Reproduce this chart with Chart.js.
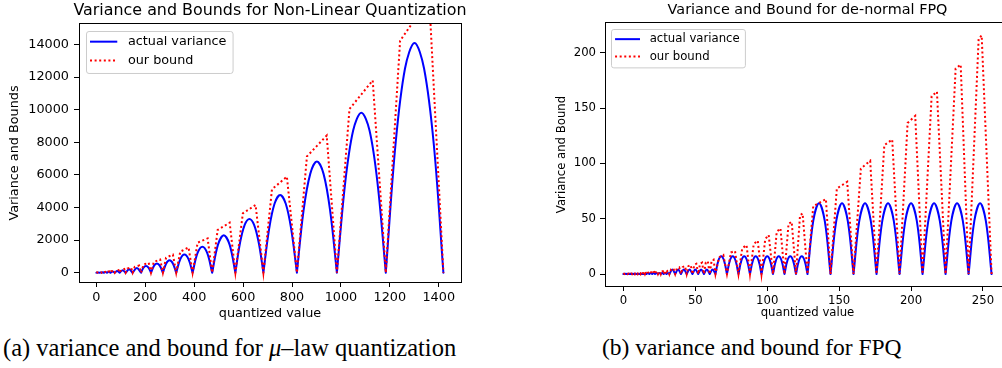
<!DOCTYPE html>
<html>
<head>
<meta charset="utf-8">
<script src="https://cdn.jsdelivr.net/npm/chart.js@4.4.1/dist/chart.umd.min.js"></script>
<style>
  html, body { margin: 0; padding: 0; background: #fff; }
  body { width: 1002px; height: 368px; overflow: hidden; position: relative; }
  canvas { position: absolute; top: 0; }
  #muChart { left: 0; }
  #fpqChart { left: 520px; }
  .caption { position: absolute; top: 334px; font-family: 'Liberation Serif', serif; font-size: 24px; white-space: nowrap; color: #000; }
</style>
</head>
<body>
<canvas id="muChart" width="500" height="325"></canvas>
<canvas id="fpqChart" width="520" height="325"></canvas>
<div class="caption" style="left:3px; font-size:24.5px">(a) variance and bound for <i>μ</i>–law quantization</div>
<div class="caption" style="left:602px; font-size:23.5px">(b) variance and bound for FPQ</div>
<script>
// ---- (a) mu-law quantization ----
const muXTicks = [0, 200, 400, 600, 800, 1000, 1200, 1400];
const muYTicks = [0, 2000, 4000, 6000, 8000, 10000, 12000, 14000];

// actual variance, one list per quantization interval
const muVariance = [
  [[0, 0], [2.8, 8], [5.6, 0]],
  [[5.6, 0], [9.2, 13], [12.8, 0]],
  [[12.8, 0], [17, 18], [21.3, 0]],
  [[21.3, 0], [26.4, 26], [31.4, 0]],
  [[31.4, 0], [37.5, 37], [43.5, 0]],
  [[43.5, 0], [50.7, 52], [57.9, 0]],
  [[57.9, 0], [66.5, 73], [75, 0]],
  [[75, 0], [85.2, 103], [95.3, 0]],
  [[95.3, 0], [107.4, 146], [119.5, 0]],
  [[119.5, 0], [133.9, 207], [148.3, 0]],
  [[148.3, 0], [165.5, 294], [182.6, 0]],
  [[182.6, 0], [192.8, 312], [203, 416], [213.2, 312], [223.4, 0]],
  [[223.4, 0], [235.5, 420], [247.7, 560], [259.8, 420], [272, 0]],
  [[272, 0], [285.6, 570], [299.3, 760], [312.9, 570], [326.5, 0]],
  [[326.5, 0], [343.3, 830], [360, 1110], [376.8, 830], [393.5, 0]],
  [[393.5, 0], [413.5, 1195], [433.5, 1595], [453.5, 1195], [473.5, 0]],
  [[473.5, 0], [497.3, 1720], [521, 2290], [544.8, 1720], [568.5, 0]],
  [[568.5, 0], [587.5, 1835], [606.5, 2935], [625.8, 3300], [645, 2935], [664, 1835], [683, 0]],
  [[683, 0], [706, 2645], [728.5, 4230], [751.5, 4760], [774.5, 4230], [797, 2645], [820, 0]],
  [[820, 0], [847, 3790], [874.5, 6060], [901.8, 6820], [929, 6060], [956, 3790], [983.5, 0]],
  [[983.5, 0], [1017, 5450], [1050, 8720], [1083.5, 9810], [1117, 8720], [1150, 5450], [1183.5, 0]],
  [[1183.5, 0], [1223, 7830], [1262, 12520], [1301, 14090], [1340, 12520], [1380, 7830], [1419, 0]]
];

// our bound (piecewise straight)
const muBound = [
  [0, 0], [1.4, 10], [4.3, 12], [5.6, 0],
  [7.4, 16], [11.1, 20], [12.8, 0],
  [15, 22], [19.4, 28], [21.3, 0],
  [24, 31], [29, 41], [31.4, 0],
  [34.5, 45], [40.7, 58], [43.5, 0],
  [47, 62], [54.6, 82], [57.9, 0],
  [62, 88], [71, 115], [75, 0],
  [80, 125], [90.6, 160], [95.3, 0],
  [101.5, 175], [114, 225], [119.5, 0],
  [127, 250], [142, 315], [148.3, 0],
  [157, 355], [175, 440], [182.6, 0],
  [193, 500], [214, 610], [223.4, 0],
  [235, 660], [261, 810], [272, 0],
  [285, 920], [313, 1110], [326.5, 0],
  [343, 1290], [377, 1550], [393.5, 0],
  [414, 1840], [455, 2105], [473.5, 0],
  [496, 2620], [545, 3070], [568.5, 0],
  [599, 3640], [651, 4150], [683, 0],
  [718, 5110], [779, 5890], [820, 0],
  [861, 7130], [942, 8410], [983.5, 0],
  [1035, 10040], [1130, 11790], [1183.5, 0],
  [1242, 14225], [1361, 16800], [1419, 0]
];

// ---- (b) de-normal FPQ ----
const fpqXTicks = [0, 50, 100, 150, 200, 250];
const fpqYTicks = [0, 50, 100, 150, 200];

const fpqVariance = [
  [[0, 0], [0.5, 0.25], [1, 0]], [[1, 0], [1.5, 0.25], [2, 0]], [[2, 0], [2.5, 0.25], [3, 0]], [[3, 0], [3.5, 0.25], [4, 0]],
  [[4, 0], [4.5, 0.25], [5, 0]], [[5, 0], [5.5, 0.25], [6, 0]], [[6, 0], [6.5, 0.25], [7, 0]], [[7, 0], [7.5, 0.25], [8, 0]],
  [[8, 0], [8.5, 0.25], [9, 0]], [[9, 0], [9.5, 0.25], [10, 0]], [[10, 0], [10.5, 0.25], [11, 0]], [[11, 0], [11.5, 0.25], [12, 0]],
  [[12, 0], [12.5, 0.25], [13, 0]], [[13, 0], [13.5, 0.25], [14, 0]], [[14, 0], [14.5, 0.25], [15, 0]], [[15, 0], [15.5, 0.25], [16, 0]],
  [[16, 0], [17, 1], [18, 0]], [[18, 0], [19, 1], [20, 0]], [[20, 0], [21, 1], [22, 0]], [[22, 0], [23, 1], [24, 0]],
  [[24, 0], [25, 1], [26, 0]], [[26, 0], [27, 1], [28, 0]], [[28, 0], [29, 1], [30, 0]], [[30, 0], [31, 1], [32, 0]],
  [[32, 0], [34, 4], [36, 0]], [[36, 0], [38, 4], [40, 0]], [[40, 0], [42, 4], [44, 0]], [[44, 0], [46, 4], [48, 0]],
  [[48, 0], [50, 4], [52, 0]], [[52, 0], [54, 4], [56, 0]], [[56, 0], [58, 4], [60, 0]], [[60, 0], [62, 4], [64, 0]],
  [[64, 0], [66, 12], [68, 16], [70, 12], [72, 0]],
  [[72, 0], [74, 12], [76, 16], [78, 12], [80, 0]],
  [[80, 0], [82, 12], [84, 16], [86, 12], [88, 0]],
  [[88, 0], [90, 12], [92, 16], [94, 12], [96, 0]],
  [[96, 0], [98, 12], [100, 16], [102, 12], [104, 0]],
  [[104, 0], [106, 12], [108, 16], [110, 12], [112, 0]],
  [[112, 0], [114, 12], [116, 16], [118, 12], [120, 0]],
  [[120, 0], [122, 12], [124, 16], [126, 12], [128, 0]],
  [[128, 0], [132, 48], [136, 64], [140, 48], [144, 0]],
  [[144, 0], [148, 48], [152, 64], [156, 48], [160, 0]],
  [[160, 0], [164, 48], [168, 64], [172, 48], [176, 0]],
  [[176, 0], [180, 48], [184, 64], [188, 48], [192, 0]],
  [[192, 0], [196, 48], [200, 64], [204, 48], [208, 0]],
  [[208, 0], [212, 48], [216, 64], [220, 48], [224, 0]],
  [[224, 0], [228, 48], [232, 64], [236, 48], [240, 0]],
  [[240, 0], [244, 48], [248, 64], [252, 48], [256, 0]]
];

const fpqBound = [
  [0, 0], [0.3, 0.2], [0.7, 0.25], [1, 0], [1.3, 0.25], [1.7, 0.3], [2, 0], [2.3, 0.3], [2.7, 0.35], [3, 0],
  [3.3, 0.35], [3.7, 0.4], [4, 0], [4.3, 0.4], [4.7, 0.5], [5, 0], [5.3, 0.45], [5.7, 0.5], [6, 0],
  [6.3, 0.5], [6.7, 0.6], [7, 0], [7.3, 0.55], [7.7, 0.6], [8, 0], [8.3, 0.6], [8.7, 0.7], [9, 0],
  [9.3, 0.65], [9.7, 0.7], [10, 0], [10.3, 0.7], [10.7, 0.8], [11, 0], [11.3, 0.75], [11.7, 0.8], [12, 0],
  [12.3, 0.8], [12.7, 0.9], [13, 0], [13.3, 0.85], [13.7, 0.9], [14, 0], [14.3, 0.9], [14.7, 1.0], [15, 0],
  [15.3, 0.95], [15.7, 1.0], [16, 0],
  [16.6, 1.1], [17.4, 1.3], [18, 0], [18.6, 1.3], [19.4, 1.5], [20, 0],
  [20.6, 1.5], [21.4, 1.8], [22, 0], [22.6, 1.8], [23.4, 2.0], [24, 0],
  [24.6, 2.0], [25.4, 2.3], [26, 0], [26.6, 2.3], [27.4, 2.6], [28, 0],
  [28.6, 2.6], [29.4, 2.9], [30, 0], [30.6, 2.9], [31.4, 3.2], [32, 0],
  [33.2, 4.3], [34.8, 5.0], [36, 0], [37.2, 5.2], [38.8, 6.0], [40, 0],
  [41.2, 6.2], [42.8, 7.2], [44, 0], [45.2, 7.2], [46.8, 8.2], [48, 0],
  [49.3, 8.2], [50.7, 9.3], [52, 0], [53.3, 9.3], [54.7, 10.4], [56, 0],
  [57.3, 10.5], [58.7, 11.6], [60, 0], [61.3, 11.8], [62.7, 13.0], [64, 0],
  [66.5, 15.0], [69.5, 17.1], [72, 0], [74.8, 19.5], [77.6, 20.8], [80, 0],
  [82.6, 23.2], [85.6, 26.2], [88, 0], [90.6, 27.1], [93.4, 30.1], [96, 0],
  [98.6, 31.5], [101, 35.3], [104, 0], [106.6, 38.2], [109.2, 41.3], [112, 0],
  [114.8, 45.4], [117, 47.2], [120, 0], [122.8, 53], [124.6, 54.7], [128, 0],
  [132, 61.4], [140.8, 67.7], [144, 0], [148.4, 77.3], [155.6, 83.3], [160, 0],
  [165.1, 95.3], [171.6, 102.3], [176, 0], [181.4, 116.4], [186.9, 121.5], [192, 0],
  [197.6, 136.5], [202.9, 142.9], [208, 0], [214.3, 160.6], [218, 164.8], [224, 0],
  [231, 185.6], [234.5, 189.2], [240, 0], [247, 212.6], [249.1, 215.6], [256, 0]
];

const seriesLabels = ['actual variance', 'our bound'];
const seriesColors = ['#0000ff', '#ff0000'];
const dotted = [2, 2.6];

Chart.defaults.font.family = "'DejaVu Sans', sans-serif";
Chart.defaults.color = '#000';

// humps joined with gaps so every zero is a sharp cusp
const humpPoints = (humps) => {
  let pts = [];
  humps.forEach((h, i) => {
    if (i > 0) pts.push({ x: h[0][0], y: null });
    h.forEach(([x, y]) => pts.push({ x: x, y: y }));
  });
  return pts;
};

// axes frame, title and matplotlib-like legend
const framePlugin = {
  id: 'frame',
  afterDraw(chart, args, opts) {
    const ctx = chart.ctx;
    const a = chart.chartArea;
    const em = opts.em;
    ctx.save();
    ctx.strokeStyle = '#000';
    ctx.lineWidth = 1;
    ctx.strokeRect(Math.round(a.left) + 0.5, Math.round(a.top) - 0.5, Math.round(a.right - a.left), Math.round(a.bottom - a.top) + 1);

    ctx.fillStyle = '#000';
    ctx.font = opts.titleSize + "px 'DejaVu Sans'";
    ctx.textAlign = 'center';
    ctx.textBaseline = 'middle';
    ctx.fillText(opts.title, (a.left + a.right) / 2, opts.titleY);

    // legend
    ctx.font = em + "px 'DejaVu Sans'";
    let tw = Math.max(...seriesLabels.map(t => ctx.measureText(t).width));
    let bx = a.left + 0.52 * em, by = a.top + 0.52 * em;
    let bw = tw + 3.75 * em, bh = 3.28 * em;
    ctx.beginPath();
    ctx.roundRect(Math.round(bx) + 0.5, Math.round(by) + 0.5, bw, bh, 0.2 * em);
    ctx.fillStyle = 'rgba(255,255,255,0.8)';
    ctx.fill();
    ctx.strokeStyle = '#cccccc';
    ctx.stroke();
    seriesLabels.forEach((lab, i) => {
      let y = by + 0.86 * em + i * 1.48 * em;
      ctx.beginPath();
      ctx.strokeStyle = seriesColors[i];
      ctx.lineWidth = 2;
      ctx.setLineDash(i === 1 ? dotted : []);
      ctx.moveTo(bx + 0.34 * em, y);
      ctx.lineTo(bx + 2.47 * em, y);
      ctx.stroke();
      ctx.setLineDash([]);
      ctx.fillStyle = '#000';
      ctx.textAlign = 'left';
      ctx.fillText(lab, bx + 3.3 * em, y);
    });
    ctx.restore();
  }
};

function makeChart(id, cfg) {
  const em = cfg.em;
  return new Chart(document.getElementById(id), {
    type: 'line',
    data: {
      datasets: [
        {
          label: seriesLabels[0], data: humpPoints(cfg.variance),
          borderColor: seriesColors[0], borderWidth: 2, pointRadius: 0,
          tension: 0.35, spanGaps: false, borderCapStyle: 'round', order: 1
        },
        {
          label: seriesLabels[1], data: cfg.bound.map(([x, y]) => ({ x: x, y: y })),
          borderColor: seriesColors[1], borderWidth: 2, pointRadius: 0,
          borderDash: dotted, tension: 0, order: 0
        }
      ]
    },
    options: {
      responsive: false,
      devicePixelRatio: 1,
      animation: false,
      events: [],
      layout: { padding: { left: 0, right: cfg.padRight, top: cfg.padTop, bottom: 0 } },
      plugins: {
        legend: { display: false },
        title: { display: false },
        tooltip: { enabled: false },
        frame: { em: em, title: cfg.title, titleSize: cfg.titleSize, titleY: cfg.titleY }
      },
      scales: {
        x: {
          type: 'linear', min: cfg.xMin, max: cfg.xMax,
          afterBuildTicks: s => { s.ticks = cfg.xTicks.map(v => ({ value: v })); },
          afterFit: s => { s.height = cfg.xHeight; },
          ticks: { callback: v => String(v), font: { size: em }, padding: 3, autoSkip: false, maxRotation: 0 },
          grid: { display: true, drawOnChartArea: false, drawTicks: true, tickLength: 5, color: '#000' },
          border: { display: false },
          title: { display: true, text: 'quantized value', font: { size: em }, padding: { top: 0, bottom: cfg.xTitlePad } }
        },
        y: {
          type: 'linear', min: cfg.yMin, max: cfg.yMax,
          afterBuildTicks: s => { s.ticks = cfg.yTicks.map(v => ({ value: v })); },
          afterFit: s => { s.width = cfg.yWidth; },
          ticks: { callback: v => String(v), font: { size: em }, padding: cfg.yPad, autoSkip: false },
          grid: { display: true, drawOnChartArea: false, drawTicks: true, tickLength: 5, color: '#000' },
          border: { display: false },
          title: { display: true, text: cfg.yTitle, font: { size: em }, padding: { top: cfg.yTitlePad, bottom: 0 } }
        }
      }
    },
    plugins: [framePlugin]
  });
}

makeChart('muChart', {
  em: 12.8, title: 'Variance and Bounds for Non-Linear Quantization', titleSize: 15.9, titleY: 11,
  variance: muVariance, bound: muBound, xTicks: muXTicks, yTicks: muYTicks,
  xMin: -71, xMax: 1491, yMin: -570, yMax: 15250,
  padRight: 39, padTop: 24, xHeight: 43, yWidth: 79,
  xTitlePad: 3.8, yTitlePad: 7.3, yPad: 5, yTitle: 'Variance and Bounds'
});

makeChart('fpqChart', {
  em: 11.7, title: 'Variance and Bound for de-normal FPQ', titleSize: 14.4, titleY: 10,
  variance: fpqVariance, bound: fpqBound, xTicks: fpqXTicks, yTicks: fpqYTicks,
  xMin: -12.8, xMax: 268.8, yMin: -10.8, yMax: 226.8,
  padRight: 30, padTop: 23, xHeight: 39, yWidth: 85,
  xTitlePad: 5, yTitlePad: 34.7, yPad: 4, yTitle: 'Variance and Bound'
});
</script>
</body>
</html>
